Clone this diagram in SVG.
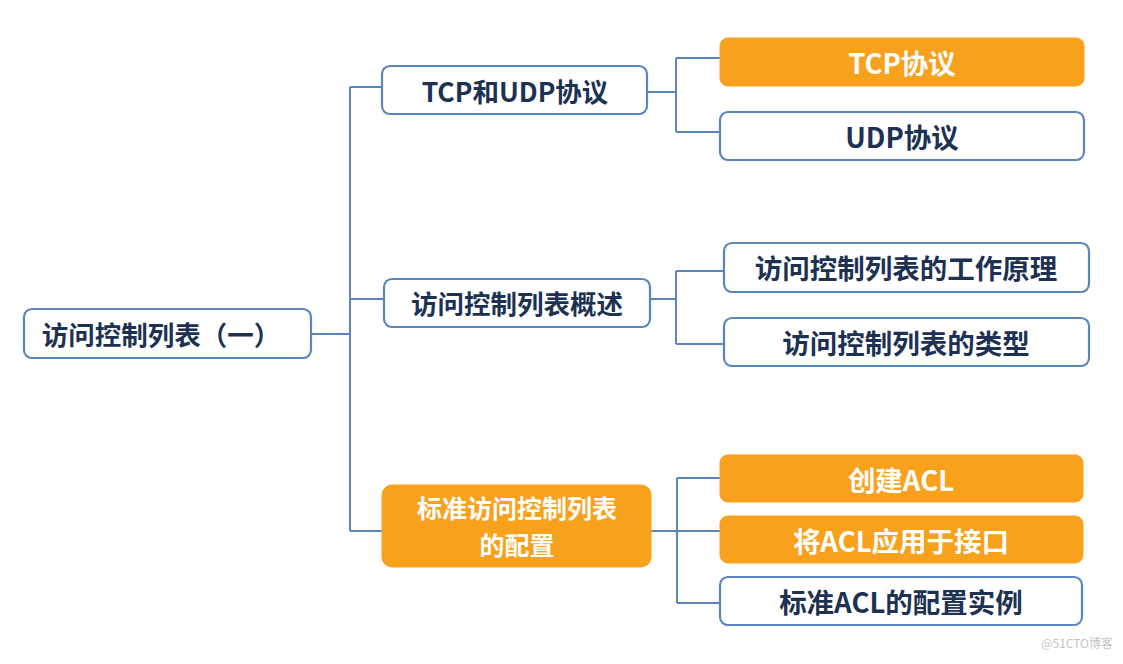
<svg xmlns="http://www.w3.org/2000/svg" width="1123" height="664" viewBox="0 0 1123 664">
<style>
.w{fill:#ffffff;stroke:#5a86bd;stroke-width:2.2}
.o{fill:#f7a11c;stroke:#f7a11c;stroke-width:1}
.t{font-family:"Noto Sans CJK SC","Noto Sans",sans-serif;font-weight:bold;font-size:26.5px;text-anchor:middle;dominant-baseline:central}
.r{font-size:27.5px}
.s{font-size:25px}
.d{fill:#1d3252}
.l{fill:#ffffff}
.c{fill:none;stroke:#5a86bd;stroke-width:2}
</style>
<rect width="1123" height="664" fill="#ffffff"/>
<g id="connectors">
<path class="c" d="M311,334 H350 M350,87 V531 M350,87 H382 M350,299 H384 M350,531 H382"/>
<path class="c" d="M648,92 H676 M676,58 V132 M676,58 H720 M676,132 H720"/>
<path class="c" d="M650,299 H676 M676,271 V344 M676,271 H724 M676,344 H724"/>
<path class="c" d="M651,531 H720 M677,478 V603 M677,478 H720 M677,603 H720"/>
</g>
<g id="root"><rect class="w" x="24" y="309" width="287" height="49" rx="8"/><text class="t d" x="161" y="333">访问控制列表（一）</text></g>
<g id="n1"><rect class="w" x="382" y="66" width="265" height="48" rx="8"/><text class="t d" x="515" y="90">TCP和UDP协议</text></g>
<g id="n2"><rect class="w" x="384" y="279" width="266" height="48" rx="8"/><text class="t d" x="517" y="302">访问控制列表概述</text></g>
<g id="n3"><rect class="o" x="382" y="485" width="269" height="82" rx="10"/><text class="t s l" x="517" y="507">标准访问控制列表</text><text class="t s l" x="517" y="544">的配置</text></g>
<g id="n1a"><rect class="o" x="720" y="38" width="364" height="48" rx="8"/><text class="t r l" x="902" y="62">TCP协议</text></g>
<g id="n1b"><rect class="w" x="720" y="112" width="364" height="48" rx="8"/><text class="t r d" x="902" y="136">UDP协议</text></g>
<g id="n2a"><rect class="w" x="724" y="243" width="365" height="49" rx="8"/><text class="t r d" x="906" y="267">访问控制列表的工作原理</text></g>
<g id="n2b"><rect class="w" x="724" y="318" width="365" height="48" rx="8"/><text class="t r d" x="906" y="342">访问控制列表的类型</text></g>
<g id="n3a"><rect class="o" x="720" y="455" width="363" height="47" rx="8"/><text class="t r l" x="901" y="479">创建ACL</text></g>
<g id="n3b"><rect class="o" x="720" y="516" width="363" height="47" rx="8"/><text class="t r l" x="901" y="540">将ACL应用于接口</text></g>
<g id="n3c"><rect class="w" x="720" y="577" width="362" height="48" rx="8"/><text class="t r d" x="901" y="601">标准ACL的配置实例</text></g>
<text x="1113" y="648" font-family="Noto Sans CJK SC, sans-serif" font-size="12" fill="#c4c4c4" text-anchor="end">@51CTO博客</text>
</svg>
